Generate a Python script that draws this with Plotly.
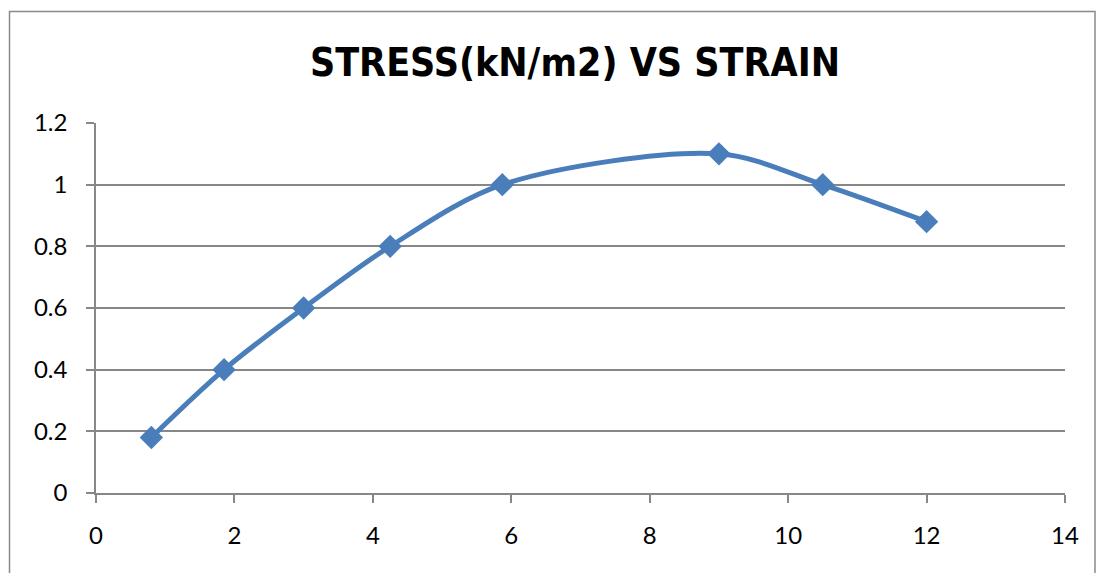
import plotly.graph_objects as go

strain = [0.8, 1.85, 3.0, 4.25, 5.87, 9.0, 10.5, 12.0]
stress = [0.18, 0.40, 0.60, 0.80, 1.00, 1.10, 1.00, 0.88]
x_ticks = [0, 2, 4, 6, 8, 10, 12, 14]
y_ticks = [0, 0.2, 0.4, 0.6, 0.8, 1, 1.2]
y_tick_labels = ["0", "0.2", "0.4", "0.6", "0.8", "1", "1.2"]
title_text = "STRESS(kN/m2) VS STRAIN"

W, H = 1096, 573
ml, mr, mt, mb = 96, 31, 123, 80
pw, ph = W - ml - mr, H - mt - mb

TITLE_FONT = "DejaVu Sans Condensed, DejaVu Sans, sans-serif"
TICK_FONT = "Lato, Open Sans, sans-serif"
GRID = "#878787"

fig = go.Figure()
fig.add_trace(go.Scatter(
    x=strain, y=stress, mode="lines+markers",
    line=dict(color="#4a7ebb", width=5, shape="spline", smoothing=0.9),
    marker=dict(symbol="diamond", size=18, color="#4a7ebb"),
    showlegend=False,
))

# chart-area border (pixel positions converted to paper coords)
bx0 = (9.5 - ml) / pw
bx1 = (1095 - ml) / pw
by1 = (H - 11.5 - mb) / ph
by0 = -(mb + 20) / ph
fig.add_shape(type="rect", xref="paper", yref="paper",
              x0=bx0, x1=bx1, y0=by0, y1=by1,
              line=dict(color="#8a8a8a", width=1.5), layer="below")

fig.update_layout(
    width=W, height=H,
    margin=dict(l=ml, r=mr, t=mt, b=mb),
    paper_bgcolor="white", plot_bgcolor="white",
    title=dict(text=title_text, xref="container", yref="container",
               x=575 / W, y=1 - 62 / H, xanchor="center", yanchor="middle",
               font=dict(family=TITLE_FONT, size=39, color="black", weight="bold")),
    font=dict(family=TICK_FONT, size=24, color="black"),
)
fig.update_xaxes(range=[0, 14], tickvals=x_ticks, ticktext=[str(v) for v in x_ticks],
                 showgrid=False, zeroline=False, showline=True, linecolor=GRID, linewidth=1.5,
                 ticks="outside", ticklen=8, tickcolor=GRID, tickwidth=1.5, ticklabelstandoff=12)
fig.update_yaxes(range=[0, 1.2], tickvals=y_ticks, ticktext=y_tick_labels,
                 showgrid=True, gridcolor=GRID, gridwidth=1.5, zeroline=False,
                 showline=True, linecolor=GRID, linewidth=1.5,
                 ticks="outside", ticklen=8, tickcolor=GRID, tickwidth=1.5, ticklabelstandoff=14)

fig.write_html("out.html")
